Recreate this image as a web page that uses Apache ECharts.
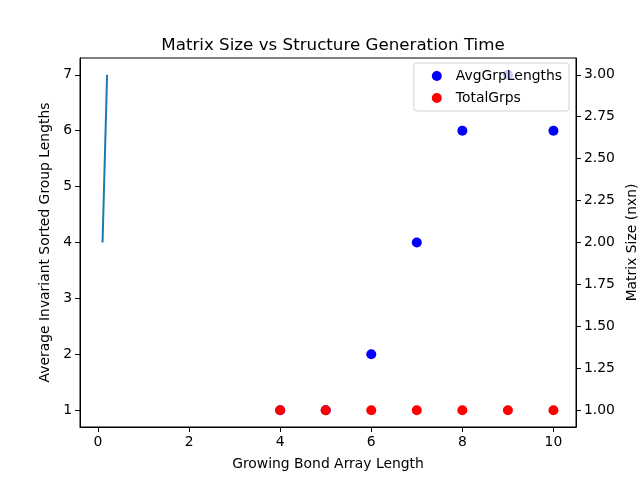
<!DOCTYPE html>
<html>
<head>
<meta charset="utf-8">
<script src="https://cdn.jsdelivr.net/npm/echarts@6/dist/echarts.min.js"></script>
<style>
  html, body { margin: 0; padding: 0; background: #fff; }
  #main { width: 640px; height: 480px; }
</style>
</head>
<body>
<div id="main"></div>
<script>
// data
var lineX = [0.1, 0.2];
var lineY = [2, 3];              // right axis
var avgX = [4, 5, 6, 7, 8, 9, 10];
var avgY = [1, 1, 2, 4, 6, 7, 6];  // left axis
var totX = [4, 5, 6, 7, 8, 9, 10];
var totY = [1, 1, 1, 1, 1, 1, 1];  // right axis

var xTicks = [0, 2, 4, 6, 8, 10];
var leftTicks = [1, 2, 3, 4, 5, 6, 7];
var rightTicks = [1.0, 1.25, 1.5, 1.75, 2.0, 2.25, 2.5, 2.75, 3.0];

function pairs(xs, ys) {
    var out = [];
    for (var i = 0; i < xs.length; i++) out.push([xs[i], ys[i]]);
    return out;
}

var font = 'DejaVu Sans';
var txt = { color: '#000', fontFamily: font, fontSize: 13.9 };

var myChart = echarts.init(document.getElementById('main'), null, { renderer: 'canvas' });
var option = {
    animation: false,
    backgroundColor: '#fff',
    title: {
        text: 'Matrix Size vs Structure Generation Time',
        left: 328,
        top: 32,
        textAlign: 'center',
        textStyle: { color: '#000', fontFamily: font, fontSize: 16.7, fontWeight: 'normal' }
    },
    grid: {
        left: 80, right: 64, top: 58, bottom: 53,
        show: true, borderColor: '#000', borderWidth: 1,
        containLabel: false,
        outerBoundsMode: 'none'
    },
    legend: {
        orient: 'vertical',
        right: 71, top: 63,
        data: ['AvgGrpLengths', 'TotalGrps'],
        icon: 'circle',
        itemWidth: 10, itemHeight: 10,
        itemGap: 8,
        padding: [6, 7, 6, 18],
        backgroundColor: 'rgba(255,255,255,0.8)',
        borderColor: '#d0d0d0', borderWidth: 1, borderRadius: 3,
        textStyle: { color: '#000', fontFamily: font, fontSize: 13.9, padding: [0, 0, 0, 9] },
        z: 10
    },
    xAxis: {
        type: 'value',
        min: -0.395, max: 10.495,
        axisLine: { show: true, onZero: false, lineStyle: { color: '#000' } },
        axisTick: { show: true, inside: false, length: 5, lineStyle: { color: '#000' }, customValues: xTicks },
        axisLabel: Object.assign({ margin: 8, customValues: xTicks, formatter: function (v) { return String(v); } }, txt),
        splitLine: { show: false },
        name: 'Growing Bond Array Length',
        nameLocation: 'middle',
        nameGap: 30,
        nameTextStyle: txt
    },
    yAxis: [{
        type: 'value',
        position: 'left',
        min: 0.7, max: 7.3,
        axisLine: { show: true, onZero: false, lineStyle: { color: '#000' } },
        axisTick: { show: true, inside: false, length: 5, lineStyle: { color: '#000' }, customValues: leftTicks },
        axisLabel: Object.assign({ margin: 8, customValues: leftTicks, formatter: function (v) { return String(v); } }, txt),
        splitLine: { show: false },
        name: 'Average Invariant Sorted Group Lengths',
        nameLocation: 'middle',
        nameGap: 23,
        nameTextStyle: txt
    }, {
        type: 'value',
        position: 'right',
        min: 0.9, max: 3.1,
        axisLine: { show: true, onZero: false, lineStyle: { color: '#000' } },
        axisTick: { show: true, inside: false, length: 5, lineStyle: { color: '#000' }, customValues: rightTicks },
        axisLabel: Object.assign({ margin: 8, customValues: rightTicks, formatter: function (v) { return v.toFixed(2); } }, txt),
        splitLine: { show: false },
        name: 'Matrix Size (nxn)',
        nameLocation: 'middle',
        nameGap: 44,
        nameRotate: 90,
        nameTextStyle: txt
    }],
    series: [{
        name: 'line',
        type: 'line',
        yAxisIndex: 1,
        data: pairs(lineX, lineY),
        showSymbol: false,
        lineStyle: { color: '#1f77b4', width: 2 },
        z: 2
    }, {
        name: 'AvgGrpLengths',
        type: 'scatter',
        yAxisIndex: 0,
        data: pairs(avgX, avgY),
        symbolSize: 10,
        itemStyle: { color: '#0000ff', opacity: 1 },
        z: 3
    }, {
        name: 'TotalGrps',
        type: 'scatter',
        yAxisIndex: 1,
        data: pairs(totX, totY),
        symbolSize: 10,
        itemStyle: { color: '#ff0000', opacity: 1 },
        z: 4
    }]
};
myChart.setOption(option);
window.onresize = myChart.resize;
</script>
</body>
</html>
